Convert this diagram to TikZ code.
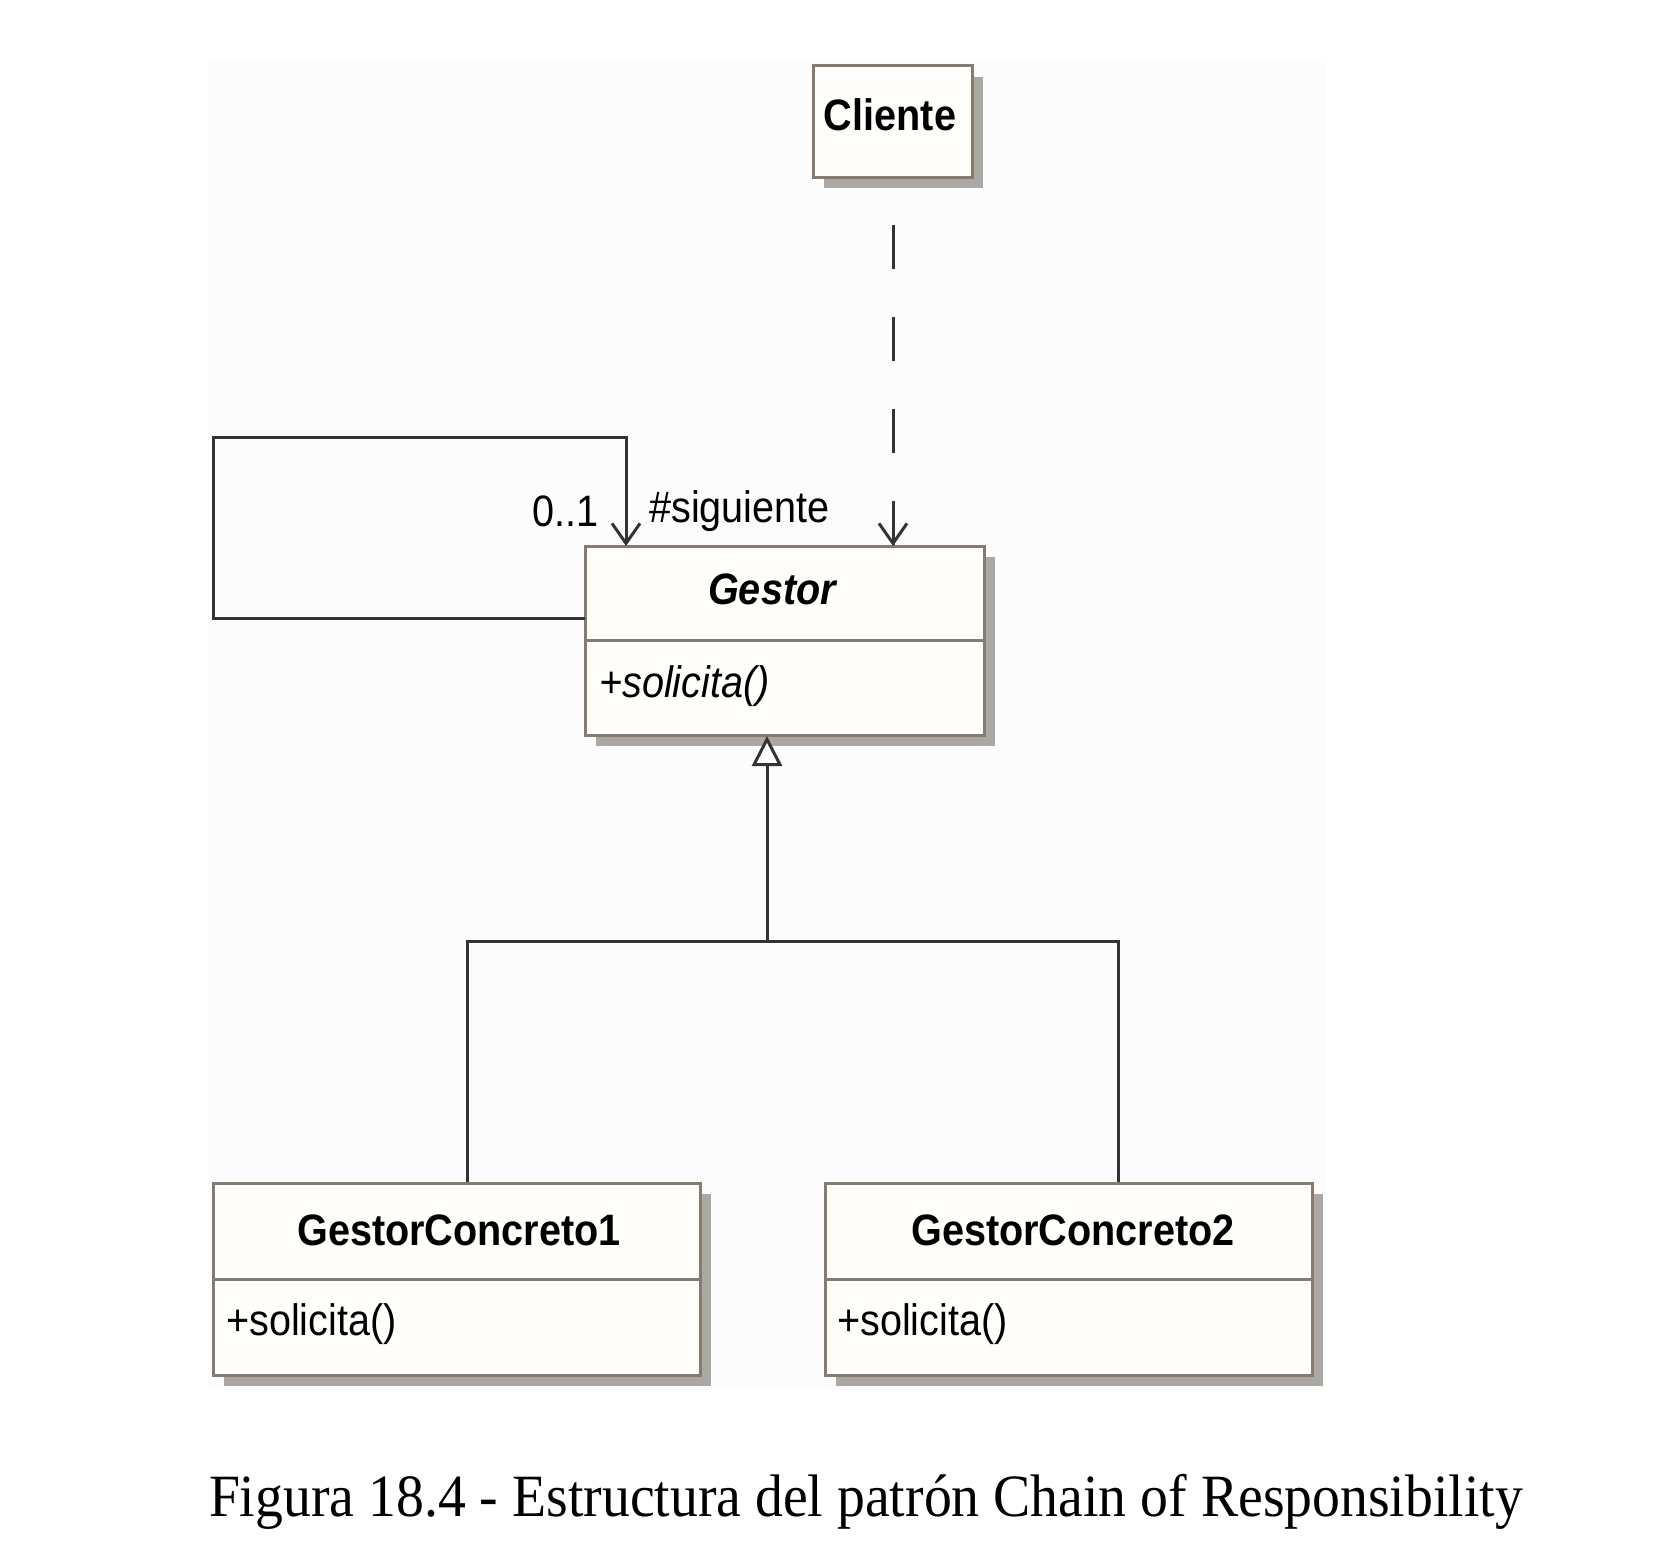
\documentclass[tikz,border=0pt]{standalone}
\usepackage{fontspec}
\setmainfont{Liberation Serif}
\newfontfamily\umlfont[FakeStretch=0.9]{Liberation Sans}
\usetikzlibrary{arrows.meta,shadows}
\definecolor{boxbrd}{HTML}{867B70}
\definecolor{boxfill}{HTML}{FFFEFB}
\definecolor{shadowgray}{HTML}{ABA7A2}
\definecolor{linecol}{HTML}{333333}
\definecolor{bgpanel}{HTML}{FCFCFC}
\begin{document}
\begin{tikzpicture}[x=1pt,y=-1pt,
  umlbox/.style={draw=boxbrd, line width=3pt, fill=boxfill, inner sep=0pt,
    drop shadow={shadow xshift=11pt, shadow yshift=-11pt, fill=shadowgray, opacity=1}},
  divider/.style={draw=boxbrd, line width=3pt},
  umltext/.style={font=\umlfont\fontsize{44}{50}\selectfont, inner sep=0pt, text=black},
  conn/.style={draw=linecol, line width=3pt},
  dep/.style={conn, dash pattern=on 44pt off 48pt, dash phase=44pt},
  vtip/.style={-{Straight Barb[length=20pt,width=28pt]}},
  gentip/.style={-{Triangle[open,length=30pt,width=30pt,fill=white]}}
]
\useasboundingbox (0,0) rectangle (1662,1544);
\fill[white] (0,0) rectangle (1662,1544);
\fill[bgpanel] (208,62) rectangle (1326,1390);

% Cliente
\node[umlbox, minimum width=159pt, minimum height=111pt] (cliente) at (892.5,121.5) {};
\node[umltext, font=\umlfont\bfseries\fontsize{44}{50}\selectfont] (clienteT) at (890,115) {Cliente};

% Gestor
\node[umlbox, minimum width=399pt, minimum height=189pt] (gestor) at (784.5,640.5) {};
\coordinate (gdivL) at (585,640);
\coordinate (gdivR) at (984,640);
\draw[divider] (gdivL) -- (gdivR);
\node[umltext, font=\umlfont\bfseries\itshape\fontsize{44}{50}\selectfont] (gestorT) at (772,589) {Gestor};
\node[umltext, font=\umlfont\itshape\fontsize{44}{50}\selectfont, anchor=west] (gestorOp) at (599,686) {+solicita()};

% GestorConcreto1
\node[umlbox, minimum width=487pt, minimum height=192pt] (c1) at (456.5,1279) {};
\coordinate (c1divL) at (213,1279);
\coordinate (c1divR) at (700,1279);
\draw[divider] (c1divL) -- (c1divR);
\node[umltext, font=\umlfont\bfseries\fontsize{44}{50}\selectfont] (c1T) at (459,1230) {GestorConcreto1};
\node[umltext, anchor=west] (c1Op) at (226,1324) {+solicita()};

% GestorConcreto2
\node[umlbox, minimum width=487pt, minimum height=192pt] (c2) at (1068.5,1279) {};
\coordinate (c2divL) at (825,1279);
\coordinate (c2divR) at (1312,1279);
\draw[divider] (c2divL) -- (c2divR);
\node[umltext, font=\umlfont\bfseries\fontsize{44}{50}\selectfont] (c2T) at (1073,1230) {GestorConcreto2};
\node[umltext, anchor=west] (c2Op) at (837,1324) {+solicita()};

% Dependency Cliente -> Gestor
\coordinate (depTop) at (893,177);
\coordinate (depBot) at (893,546);
\draw[dep] (depTop) -- (depBot);
\coordinate (depTipStart) at (893,503);
\draw[conn, vtip] (depTipStart) -- (depBot);

% Self association
\coordinate (sa1) at (585,618);
\coordinate (sa2) at (213,618);
\coordinate (sa3) at (213,437);
\coordinate (sa4) at (626,437);
\coordinate (sa5) at (626,546);
\draw[conn, vtip] (sa1) -- (sa2) -- (sa3) -- (sa4) -- (sa5);
\node[umltext, anchor=east] (mult) at (599,511) {0..1};
\node[umltext, anchor=west] (role) at (649,511) {\#siguiente};

% Generalization
\coordinate (j) at (767,941);
\coordinate (jl) at (467,941);
\coordinate (jr) at (1118,941);
\coordinate (gApex) at (767,736);
\draw[conn, gentip] (j) -- (gApex);
\draw[conn] (jl |- c1.north) -- (jl) -- (jr) -- (jr |- c2.north);

% Caption
\node[inner sep=0pt, anchor=base] (caption) at (866,1516)
  {\resizebox{1314pt}{\height}{\fontsize{60}{70}\selectfont Figura 18.4 - Estructura del patrón Chain of Responsibility}};
\end{tikzpicture}
\end{document}
